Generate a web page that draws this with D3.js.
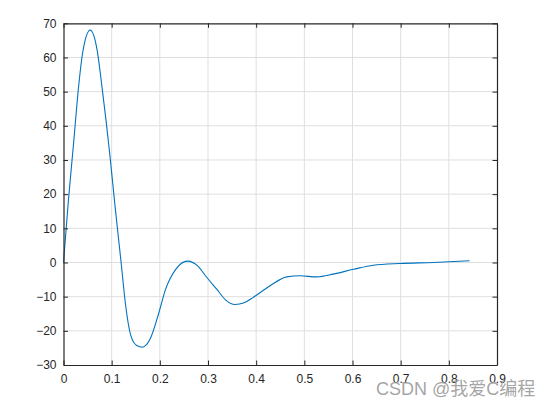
<!DOCTYPE html>
<html>
<head>
<meta charset="utf-8">
<script src="https://cdn.jsdelivr.net/npm/d3@7"></script>
<style>
  html, body { margin: 0; padding: 0; background: #fff; }
  svg { display: block; }
</style>
</head>
<body>
<svg id="chart" width="551" height="408"></svg>
<script>
// Data
const xValues = [0, 0.0104, 0.0207, 0.031, 0.040, 0.0554, 0.070, 0.0797, 0.0955, 0.107, 0.1196, 0.1285, 0.140, 0.152, 0.164, 0.1805, 0.198, 0.212, 0.233, 0.2575, 0.2785, 0.296, 0.318, 0.337, 0.356, 0.375, 0.394, 0.429, 0.4635, 0.491, 0.526, 0.560, 0.602, 0.643, 0.6985, 0.768, 0.843];
const yValues = [0, 18.5, 34.5, 51.0, 61.6, 68.0, 62.0, 51.6, 32.5, 16.5, 0, -12.0, -21.5, -24.3, -24.8, -22.2, -14.7, -7.8, -2.0, 0.4, -1.0, -4.1, -7.8, -11.0, -12.3, -11.8, -10.2, -6.8, -4.2, -3.9, -4.2, -3.4, -2.0, -0.8, -0.3, 0.0, 0.5];
const xTicks = [0, 0.1, 0.2, 0.3, 0.4, 0.5, 0.6, 0.7, 0.8, 0.9];
const yTicks = [-30, -20, -10, 0, 10, 20, 30, 40, 50, 60, 70];
const watermark = "CSDN @我爱C编程";

(function () {
const svg = d3.select("#chart");
const L = 63.5, R = 497, T = 23.3, B = 365;

const x = d3.scaleLinear().domain([0, 0.9]).range([L, R]);
const y = d3.scaleLinear().domain([-30, 70]).range([B, T]);

const axisColor = "#262626";
const fontFam = "Arial, 'Liberation Sans', Helvetica, sans-serif";

// grid
const grid = svg.append("g");
grid.selectAll("line.vx").data(xTicks.slice(1, -1)).join("line")
  .attr("x1", d => x(d)).attr("x2", d => x(d))
  .attr("y1", T).attr("y2", B)
  .attr("stroke", "#dfdfdf").attr("stroke-width", 1);
grid.selectAll("line.hy").data(yTicks.slice(1, -1)).join("line")
  .attr("y1", d => y(d)).attr("y2", d => y(d))
  .attr("x1", L).attr("x2", R)
  .attr("stroke", "#dfdfdf").attr("stroke-width", 1);

// curve
const pts = xValues.map((v, i) => [v, yValues[i]]);
const line = d3.line().x(d => x(d[0])).y(d => y(d[1])).curve(d3.curveMonotoneX);
svg.append("path").datum(pts)
  .attr("d", line)
  .attr("fill", "none")
  .attr("stroke", "#0072BD")
  .attr("stroke-width", 1.1);

// axes (ticks inward)
const tickLen = 4.5;
const xAxisB = d3.axisBottom(x).tickValues(xTicks).tickFormat(d3.format("")).tickSizeInner(-tickLen).tickSizeOuter(0).tickPadding(9);
const xAxisT = d3.axisTop(x).tickValues(xTicks).tickFormat("").tickSizeInner(-tickLen).tickSizeOuter(0);
const yAxisL = d3.axisLeft(y).tickValues(yTicks).tickFormat(d3.format("")).tickSizeInner(-tickLen).tickSizeOuter(0).tickPadding(7);
const yAxisR = d3.axisRight(y).tickValues(yTicks).tickFormat("").tickSizeInner(-tickLen).tickSizeOuter(0);

function style(g) {
  g.selectAll("path.domain").attr("stroke", axisColor).attr("stroke-width", 1.2);
  g.selectAll(".tick line").attr("stroke", axisColor);
  g.selectAll(".tick text").attr("fill", axisColor).style("font-family", fontFam).style("font-size", "12px");
}
svg.append("g").attr("transform", `translate(0,${B})`).call(xAxisB).call(style);
svg.append("g").attr("transform", `translate(0,${T})`).call(xAxisT).call(style);
svg.append("g").attr("transform", `translate(${L},0)`).call(yAxisL).call(style);
svg.append("g").attr("transform", `translate(${R},0)`).call(yAxisR).call(style);

// watermark
svg.append("text")
  .attr("x", 376).attr("y", 395)
  .attr("fill", "#9a9a9a")
  .attr("fill-opacity", 0.9)
  .style("font-family", "Arial, 'Noto Sans CJK SC', sans-serif")
  .style("font-size", "18px")
  .text(watermark);
})();
</script>
</body>
</html>
